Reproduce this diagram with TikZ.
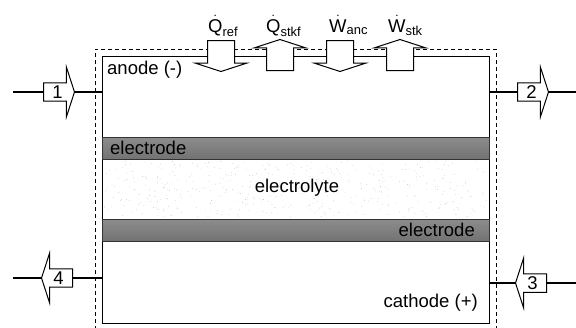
\documentclass[tikz,border=0pt]{standalone}
\usepackage{amsmath}
\usepackage{fontspec}
\setmainfont{Liberation Sans}
\usetikzlibrary{shapes.arrows}
\tikzset{
   lbl/.style={font=\fontsize{18.5}{22}\selectfont, inner sep=0pt},
   flow/.style={single arrow, draw, fill=white, line width=1pt, inner sep=0pt,
      minimum height=31pt, minimum width=50pt,
      single arrow head extend=12pt, single arrow tip angle=144},
   band/.style={draw=black!80, line width=0.8pt,
      top color=black!45, middle color=black!22, bottom color=black!55},
   wire/.style={line width=1.3pt}
}
\begin{document}
\begin{tikzpicture}[x=1pt, y=-1pt]
   \useasboundingbox (0,0) rectangle (576,327);
   % control volume and cell
   \draw[line width=0.9pt, dash pattern=on 4pt off 3pt] (95,330) |- (496,49) -- (496,330);
   \node[draw, line width=1.2pt, anchor=north west, inner sep=0pt,
      minimum width=387pt, minimum height=267pt] (cell) at (102,56) {};
   % electrolyte
   \pgfmathsetseed{7}
   \foreach \i in {1,...,450}
      \fill[black!25] (104+383*rnd, 161+56*rnd) circle (0.4pt);
   \draw[band] (102,137) rectangle (489,159);
   \draw[band] (102,219) rectangle (489,241);
   \node[lbl, anchor=west] (ano) at (107,70) {anode (-)};
   \node[lbl, anchor=west] (el1) at (110,148) {electrode};
   \node[lbl] (ely) at (297,188) {electrolyte};
   \node[lbl, anchor=east] (el2) at (475,230) {electrode};
   \node[lbl, anchor=east] (cat) at (478,303) {cathode (+)};
   % heat and work
   \foreach \n/\p/\r in {qref/{221,40}/270, qstkf/{280,71}/90,
                         wanc/{340,40}/270, wstk/{400,71}/90}
      \node[flow, shape border rotate=\r, anchor=tail] (\n) at (\p)
         {\rule{26pt}{0pt}\rule{0pt}{23pt}};
   \node[lbl, anchor=base west] at (208,32) {$\dot{\text{Q}}_{\text{ref}}$};
   \node[lbl, anchor=base west] at (266,32) {$\dot{\text{Q}}_{\text{stkf}}$};
   \node[lbl, anchor=base west] at (329,32) {$\dot{\text{W}}_{\text{anc}}$};
   \node[lbl, anchor=base west] at (388,32) {$\dot{\text{W}}_{\text{stk}}$};
   % streams
   \foreach \n/\p/\r/\t in {s1/{43,92}/0/1, s2/{517,92}/0/2,
                            s3/{547,283}/180/3, s4/{73,278}/180/4}
      \node[flow, lbl, shape border rotate=\r, anchor=tail] (\n) at (\p) {\t};
   \coordinate (in1) at (13,92);
   \coordinate (out2) at (576,92);
   \coordinate (in3) at (576,283);
   \coordinate (out4) at (13,278);
   \draw[wire] (in1) -- (s1.tail);
   \draw[wire] (s1.tip) -- (s1.tip -| cell.west);
   \draw[wire] (s2.tail -| cell.east) -- (s2.tail);
   \draw[wire] (s2.tip) -- (out2);
   \draw[wire] (in3) -- (s3.tail);
   \draw[wire] (s3.tip) -- (s3.tip -| cell.east);
   \draw[wire] (s4.tail -| cell.west) -- (s4.tail);
   \draw[wire] (s4.tip) -- (out4);
\end{tikzpicture}
\end{document}
